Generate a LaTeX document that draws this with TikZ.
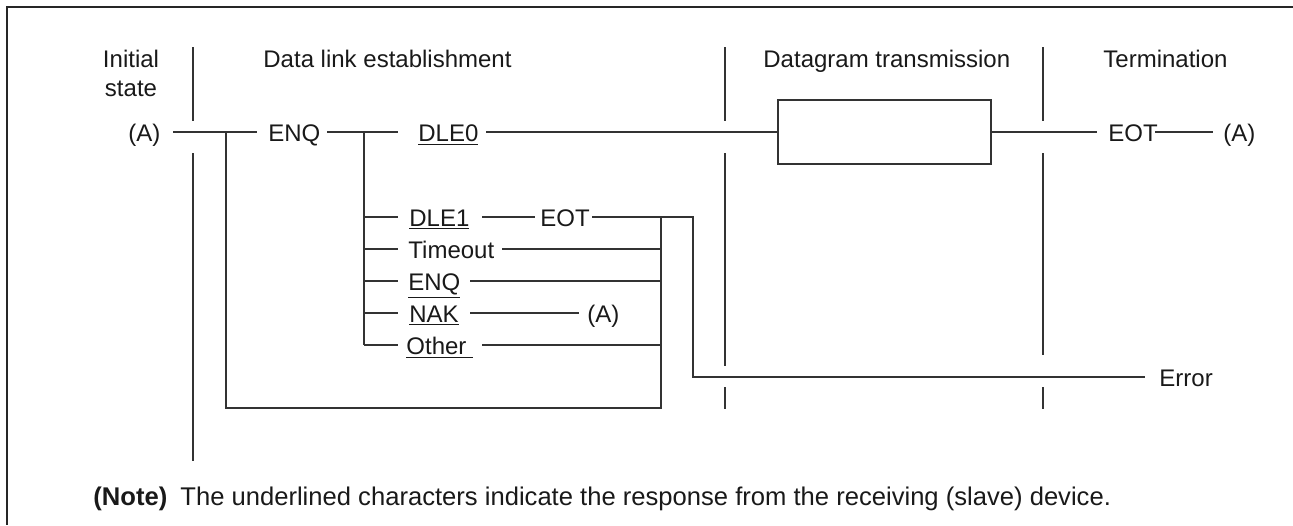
\documentclass[tikz,border=0pt]{standalone}
\usepackage{fontspec}
\setmainfont{Liberation Sans}
\begin{document}
\begin{tikzpicture}[x=0.5pt,y=-0.5pt,
  ln/.style={draw=black!80, line width=0.7pt},
  txt/.style={inner sep=0pt, anchor=base west, text=black!90, font=\fontsize{12}{14}\selectfont},
  notetxt/.style={txt, font=\fontsize{12.8}{15}\selectfont}]
\useasboundingbox (0,0) rectangle (1293,525);
% frame
\draw[line width=1pt, black!85] (1293,7) -- (7,7) -- (7,525);

% headers
\node[txt, anchor=base] (init1) at (131,67) {Initial};
\node[txt, anchor=base] (init2) at (131,96) {state};
\node[txt] (hdl) at (263,67) {Data link establishment};
\node[txt] (hdt) at (763,67) {Datagram transmission};
\node[txt] (hterm) at (1103,67) {Termination};

% dividers
\draw[ln] (193,47) -- (193,121);
\draw[ln] (193,153) -- (193,461);
\draw[ln] (725,47) -- (725,121);
\draw[ln] (725,153) -- (725,366);
\draw[ln] (725,387) -- (725,409);
\draw[ln] (1043,47) -- (1043,121);
\draw[ln] (1043,153) -- (1043,355);
\draw[ln] (1043,387) -- (1043,409);

% main row
\node[txt] (a0) at (128,141) {(A)};
\node[txt] (enq0) at (268,141) {ENQ};
\node[txt] (dle0) at (418,141) {\underline{DLE0}};
\node[draw=black!80, line width=0.7pt, minimum width=106.5pt, minimum height=32pt, inner sep=0pt] (box) at (884.5,132) {};
\node[txt] (eotT) at (1108,141) {EOT};
\node[txt] (aT) at (1223,141) {(A)};

\coordinate (j1) at (226,132);
\coordinate (j2) at (364,132);
\coordinate (k1) at (661,217);
\coordinate (k2) at (693,217);
\coordinate (err) at (1145,377);

\draw[ln] (173,132) -- (257,132);
\draw[ln] (327,132) -- (398,132);
\draw[ln] (486,132) -- (box.west);
\draw[ln] (box.east) -- (1097,132);
\draw[ln] (1155,132) -- (1213,132);

% retry loop
\draw[ln] (j1) -- (226,408) -- (661,408) -- (k1);
% response branches
\draw[ln] (j2) -- (364,345);
\foreach \yy in {217,249,281,313,345} \draw[ln] (364,\yy) -- (398,\yy);

\node[txt] (dle1) at (409,226) {\underline{DLE1}};
\node[txt] (eot1) at (540,226) {EOT};
\node[txt] (tmo) at (408,258) {Timeout};
\node[txt] (enq1) at (408,290) {\underline{ENQ}};
\node[txt] (nak) at (409,322) {\underline{NAK}};
\node[txt] (a1) at (587,322) {(A)};
\node[txt] (oth) at (406,354) {\underline{Other\ }};
\node[txt] (errt) at (1159,386) {Error};

\draw[ln] (482,217) -- (535,217);
\draw[ln] (592,217) -- (k2) -- (693,377) -- (err);
\draw[ln] (502,249) -- (661,249);
\draw[ln] (470,281) -- (661,281);
\draw[ln] (470,313) -- (579,313);
\draw[ln] (482,345) -- (661,345);

% note
\node[notetxt] (noteb) at (93,505) {\bfseries (Note)};
\node[notetxt] (notet) at (180,505) {The underlined characters indicate the response from the receiving (slave) device.};
\end{tikzpicture}
\end{document}
